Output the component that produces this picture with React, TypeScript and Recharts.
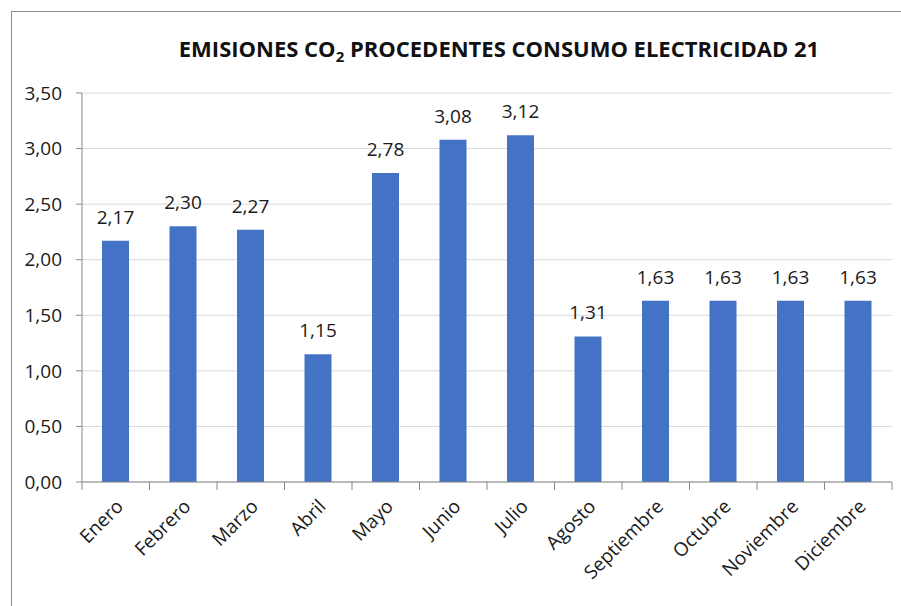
import { BarChart, Bar, XAxis, YAxis, CartesianGrid, LabelList } from 'recharts'

const months = ['Enero', 'Febrero', 'Marzo', 'Abril', 'Mayo', 'Junio', 'Julio', 'Agosto', 'Septiembre', 'Octubre', 'Noviembre', 'Diciembre']
const emissions = [2.17, 2.3, 2.27, 1.15, 2.78, 3.08, 3.12, 1.31, 1.63, 1.63, 1.63, 1.63]
const yTicks = [0, 0.5, 1, 1.5, 2, 2.5, 3, 3.5]

const data = months.map((m, i) => ({ month: m, value: emissions[i] }))

const FONT = 'Open Sans, sans-serif'
const fmt = (v: number) => Number(v).toFixed(2).replace('.', ',')

// Excel style: tick marks sit between categories
const MonthTick = (props: any) => {
  const { x, y, payload, index } = props
  const half = 810 / months.length / 2
  return (
    <g>
      <line x1={x - half} x2={x - half} y1={y} y2={y + 8} stroke="#898989" />
      {index === months.length - 1 && (
        <line x1={x + half} x2={x + half} y1={y} y2={y + 8} stroke="#898989" />
      )}
      <text
        transform={`translate(${x + 4},${y + 21}) rotate(-45)`}
        textAnchor="end"
        dy="0.35em"
        fontSize={19}
        fontFamily={FONT}
        fill="#1a1a1a"
      >
        {payload.value}
      </text>
    </g>
  )
}

export default function App() {
  return (
    <div style={{ position: 'absolute', left: 0, top: 0, width: 901, height: 606, overflow: 'hidden', background: '#fff' }}>
      <div style={{ position: 'absolute', left: 11, top: 11, width: 900, height: 600, border: '1px solid #8c8c8c' }} />
      <div
        style={{
          position: 'absolute',
          left: 0,
          width: 998,
          top: 33,
          textAlign: 'center',
          fontFamily: FONT,
          fontWeight: 700,
          fontSize: 22,
          color: '#111',
          whiteSpace: 'nowrap',
        }}
      >
        EMISIONES CO<sub style={{ fontSize: 15 }}>2</sub> PROCEDENTES CONSUMO ELECTRICIDAD 21
      </div>
      <BarChart
        width={901}
        height={606}
        data={data}
        margin={{ top: 93, right: 9, left: 22, bottom: 24 }}
        barSize={27}
        style={{ position: 'absolute', left: 0, top: 0 }}
      >
        <CartesianGrid vertical={false} stroke="#d9d9d9" />
        <XAxis
          dataKey="month"
          height={100}
          interval={0}
          tickLine={false}
          tickSize={0}
          tickMargin={0}
          axisLine={{ stroke: '#898989' }}
          tick={<MonthTick />}
        />
        <YAxis
          width={60}
          domain={[0, 3.5]}
          ticks={yTicks}
          tickFormatter={fmt}
          tickLine={{ stroke: '#898989' }}
          axisLine={{ stroke: '#898989' }}
          tickMargin={14}
          tick={{ fill: '#1a1a1a', fontSize: 19, fontFamily: FONT }}
        />
        <Bar dataKey="value" fill="#4472c4" isAnimationActive={false}>
          <LabelList
            dataKey="value"
            position="top"
            offset={17}
            formatter={(v: any) => fmt(v)}
            style={{ fill: '#1a1a1a', fontSize: 19, fontFamily: FONT }}
          />
        </Bar>
      </BarChart>
    </div>
  )
}
